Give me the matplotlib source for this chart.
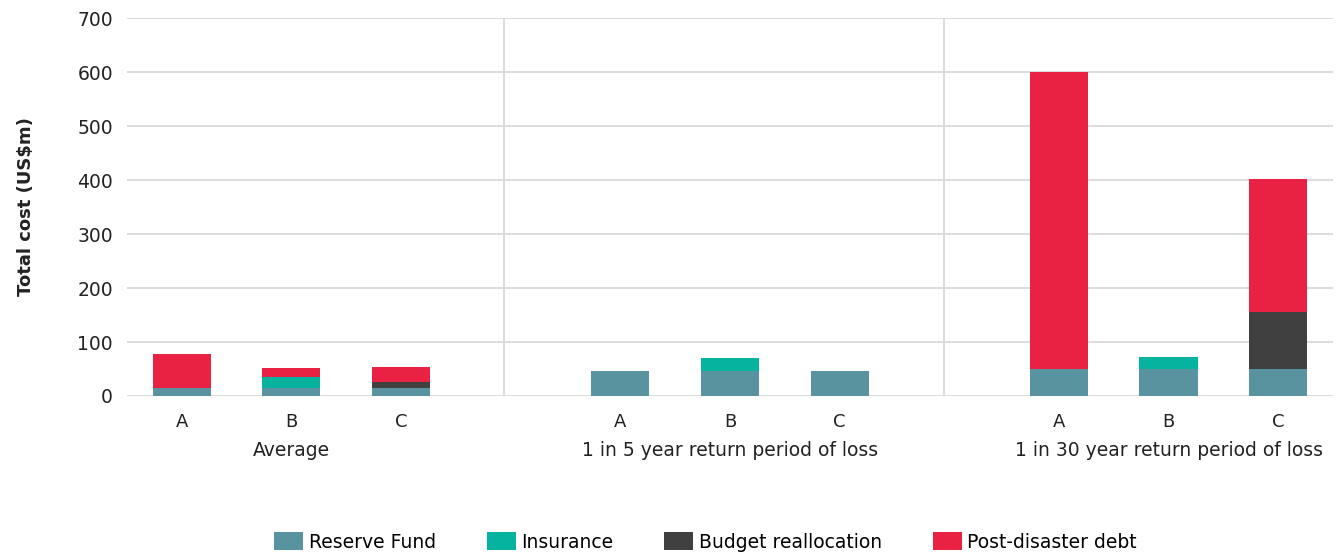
import numpy as np
import matplotlib.pyplot as plt
from matplotlib.patches import Patch

plt.rcParams['font.family'] = ['DejaVu Sans']

# === Daten ===
groups = ['Average', '1 in 5 year return period of loss', '1 in 30 year return period of loss']
options = ['A', 'B', 'C']
reserve = [15, 15, 15, 47, 47, 47, 50, 50, 50]
insurance = [0, 20, 0, 0, 23, 0, 0, 23, 0]
budget = [0, 0, 11, 0, 0, 0, 0, 0, 106]
debt = [63, 17, 28, 0, 0, 0, 550, 0, 246]

series_names = ['Reserve Fund', 'Insurance', 'Budget reallocation', 'Post-disaster debt']
colors = ['#5A93A0', '#06B39E', '#404040', '#E92244']
text_col = '#222222'

# Positionen: je Gruppe drei Balken, eine Lücke dazwischen
x = np.array([0, 1, 2, 4, 5, 6, 8, 9, 10])
width = 0.53

fig = plt.figure(figsize=(13.39, 5.54), dpi=100)
ax = fig.add_axes([0.0948, 0.2852, 0.9007, 0.6823])

bottom = np.zeros(len(x))
for vals, c in zip([reserve, insurance, budget, debt], colors):
    ax.bar(x, vals, width, bottom=bottom, color=c, zorder=3)
    bottom += np.array(vals)

ax.set_xlim(-0.5, 10.5)
ax.set_ylim(0, 700)
ax.set_yticks(range(0, 701, 100))
ax.grid(axis='y', color='#d9d9d9', linewidth=1.3, zorder=0)
ax.tick_params(axis='y', length=0, labelsize=13.5, pad=10, colors=text_col)
for s in ax.spines.values():
    s.set_visible(False)

# Gruppentrenner
for sx in [2.94, 6.95]:
    ax.axvline(sx, color='#d9d9d9', linewidth=1.3, zorder=0)

ax.set_xticks(x)
ax.set_xticklabels(options * 3, fontsize=13, color=text_col)
ax.tick_params(axis='x', length=0, pad=12)

for gi, g in enumerate(groups):
    ax.text(x[gi * 3 + 1], -0.1455, g, transform=ax.get_xaxis_transform(),
            ha='center', va='center', fontsize=13.5, color=text_col)

ax.set_ylabel('Total cost (US\\$m)', fontsize=13, fontweight='bold', color=text_col)
ax.yaxis.set_label_coords(-0.0763, 0.5)

handles = [Patch(facecolor=c, label=n) for c, n in zip(colors, series_names)]
fig.legend(handles=handles, loc='center', bbox_to_anchor=(0.527, 0.0217), ncol=4,
           frameon=False, fontsize=13.5, handlelength=1.55, handleheight=1.1,
           handletextpad=0.3, columnspacing=2.7, borderpad=0)

plt.savefig('out.png', dpi=100)
